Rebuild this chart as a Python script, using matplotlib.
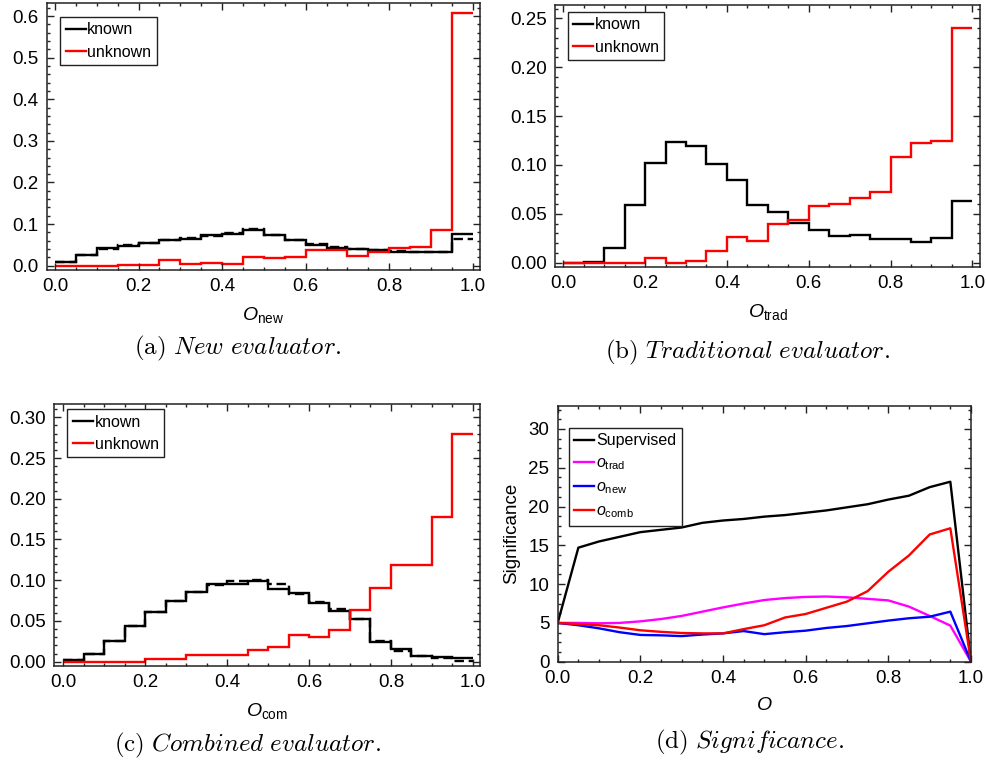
import numpy as np
import matplotlib
matplotlib.use("Agg")
import matplotlib.pyplot as plt
from matplotlib.ticker import MultipleLocator

plt.rcParams["font.family"] = ["Liberation Sans", "DejaVu Sans"]
plt.rcParams["mathtext.fontset"] = "custom"
plt.rcParams["mathtext.rm"] = "Liberation Sans"
plt.rcParams["mathtext.it"] = "Liberation Sans:italic"

# 20 bins on [0, 1]
edges = np.linspace(0.0, 1.0, 21)

# (a) new evaluator
new_known = [0.010, 0.026, 0.042, 0.048, 0.055, 0.062, 0.065, 0.073, 0.076, 0.086,
             0.074, 0.062, 0.050, 0.043, 0.041, 0.038, 0.034, 0.034, 0.032, 0.077]
new_known_alt = [0.010, 0.026, 0.041, 0.049, 0.054, 0.061, 0.067, 0.072, 0.078, 0.088,
                 0.075, 0.061, 0.052, 0.044, 0.040, 0.037, 0.035, 0.032, 0.033, 0.065]
new_unknown = [0.000, 0.000, 0.000, 0.002, 0.002, 0.013, 0.004, 0.006, 0.003, 0.020,
               0.018, 0.022, 0.038, 0.038, 0.024, 0.033, 0.042, 0.045, 0.085, 0.608]

# (b) traditional evaluator
trad_known = [0.000, 0.0003, 0.015, 0.059, 0.102, 0.123, 0.119, 0.101, 0.085, 0.059,
              0.052, 0.041, 0.033, 0.027, 0.028, 0.0245, 0.0245, 0.021, 0.025, 0.063]
trad_unknown = [0.000, 0.000, 0.000, 0.000, 0.0044, 0.000, 0.002, 0.012, 0.026, 0.0225,
                0.040, 0.044, 0.058, 0.060, 0.066, 0.072, 0.108, 0.122, 0.124, 0.240]

# (c) combined evaluator
com_known = [0.002, 0.010, 0.026, 0.044, 0.061, 0.075, 0.086, 0.095, 0.095, 0.0995,
             0.089, 0.084, 0.072, 0.062, 0.052, 0.0245, 0.016, 0.0074, 0.006, 0.005]
com_known_alt = [0.002, 0.010, 0.026, 0.044, 0.061, 0.075, 0.086, 0.094, 0.099, 0.100,
                 0.095, 0.083, 0.073, 0.065, 0.053, 0.026, 0.0135, 0.007, 0.004, 0.001]
com_unknown = [0.000, 0.000, 0.000, 0.000, 0.003, 0.003, 0.008, 0.008, 0.008, 0.014,
               0.018, 0.033, 0.030, 0.039, 0.063, 0.090, 0.119, 0.119, 0.177, 0.279]

# (d) significance vs cut
cut = np.linspace(0.0, 1.0, 21)
sig_supervised = [5.0, 14.7, 15.5, 16.1, 16.7, 17.0, 17.3, 17.9, 18.2, 18.4, 18.7,
                  18.9, 19.2, 19.5, 19.9, 20.3, 20.9, 21.4, 22.5, 23.2, 0.0]
sig_trad = [5.0, 5.0, 4.95, 5.0, 5.2, 5.5, 5.9, 6.45, 7.0, 7.5, 7.95,
            8.2, 8.35, 8.4, 8.3, 8.1, 7.9, 7.1, 5.9, 4.65, 0.0]
sig_new = [5.0, 4.7, 4.3, 3.8, 3.45, 3.4, 3.3, 3.5, 3.65, 3.95, 3.55,
           3.8, 4.0, 4.35, 4.6, 4.95, 5.3, 5.6, 5.8, 6.45, 0.0]
sig_comb = [5.0, 4.85, 4.7, 4.4, 4.05, 3.85, 3.7, 3.65, 3.65, 4.2, 4.7,
            5.7, 6.15, 6.95, 7.75, 9.1, 11.6, 13.7, 16.4, 17.2, 0.0]

W, H = 987, 764
fig = plt.figure(figsize=(W / 100, H / 100), dpi=100)


def px_axes(left, top, right, bottom):
    return fig.add_axes([left / W, 1 - bottom / H, (right - left) / W, (bottom - top) / H])


def style(ax, ymajor, yminor):
    ax.xaxis.set_major_locator(MultipleLocator(0.2))
    ax.xaxis.set_minor_locator(MultipleLocator(0.05))
    ax.yaxis.set_major_locator(MultipleLocator(ymajor))
    ax.yaxis.set_minor_locator(MultipleLocator(yminor))
    ax.tick_params(which="both", direction="in", top=True, right=True,
                   labelsize=13.5, width=1.0, color="#222222")
    ax.tick_params(which="major", length=5, pad=6)
    ax.tick_params(which="minor", length=2.5)
    for s in ax.spines.values():
        s.set_linewidth(1.1)
        s.set_color("#222222")


def legend(ax, x, y, **kw):
    leg = ax.legend(loc="upper left", bbox_to_anchor=(x, y), fontsize=11.5,
                    handlelength=1.25, handletextpad=0.1, borderpad=0.35,
                    labelspacing=0.45, borderaxespad=0, fancybox=False,
                    framealpha=1, edgecolor="#222222", **kw)
    leg.get_frame().set_linewidth(1.0)


LW = 1.7

# (a)
ax = px_axes(46.7, 3, 480, 270)
ax.stairs(new_known, edges, baseline=None, color="black", lw=LW, label="known")
ax.stairs(new_known_alt, edges, baseline=None, color="black", lw=LW, ls=(0, (4, 2)))
ax.stairs(new_unknown, edges, baseline=None, color="#ff0000", lw=LW, label="unknown")
ax.set_xlim(-0.020, 1.0175)
ax.set_ylim(-0.0103, 0.6313)
style(ax, 0.1, 0.02)
ax.yaxis.set_major_formatter(plt.FormatStrFormatter("%.1f"))
ax.xaxis.set_major_formatter(plt.FormatStrFormatter("%.1f"))
ax.set_xlabel(r"$O_{\mathrm{new}}$", fontsize=14, labelpad=7)
legend(ax, 0.031, 0.948)

# (b)
ax = px_axes(555, 5, 980, 267)
ax.stairs(trad_known, edges, baseline=None, color="black", lw=LW, label="known")
ax.stairs(trad_unknown, edges, baseline=None, color="#ff0000", lw=LW, label="unknown")
ax.set_xlim(-0.0203, 1.0188)
ax.set_ylim(-0.0044, 0.2636)
style(ax, 0.05, 0.01)
ax.yaxis.set_major_formatter(plt.FormatStrFormatter("%.2f"))
ax.xaxis.set_major_formatter(plt.FormatStrFormatter("%.1f"))
ax.set_xlabel(r"$O_{\mathrm{trad}}$", fontsize=14, labelpad=7)
legend(ax, 0.030, 0.974)

# (c)
ax = px_axes(54.3, 404, 480, 666)
ax.stairs(com_known, edges, baseline=None, color="black", lw=LW, label="known")
ax.stairs(com_known_alt, edges, baseline=None, color="black", lw=LW, ls=(0, (4, 2)))
ax.stairs(com_unknown, edges, baseline=None, color="#ff0000", lw=LW, label="unknown")
ax.set_xlim(-0.022, 1.0176)
ax.set_ylim(-0.0053, 0.3163)
style(ax, 0.05, 0.01)
ax.yaxis.set_major_formatter(plt.FormatStrFormatter("%.2f"))
ax.xaxis.set_major_formatter(plt.FormatStrFormatter("%.1f"))
ax.set_xlabel(r"$O_{\mathrm{com}}$", fontsize=14, labelpad=7)
legend(ax, 0.031, 0.981)

# (d)
ax = px_axes(557.7, 405.7, 971, 661.7)
ax.plot(cut, sig_supervised, color="black", lw=LW, label="Supervised")
ax.plot(cut, sig_trad, color="#ff00ff", lw=LW, label=r"$o_{\mathrm{trad}}$")
ax.plot(cut, sig_new, color="#0000ff", lw=LW, label=r"$o_{\mathrm{new}}$")
ax.plot(cut, sig_comb, color="#ff0000", lw=LW, label=r"$o_{\mathrm{comb}}$")
ax.set_xlim(0, 1)
ax.set_ylim(0, 33)
style(ax, 5, 1.25)
ax.xaxis.set_major_formatter(plt.FormatStrFormatter("%.1f"))
ax.set_xlabel(r"$O$", fontsize=14, labelpad=7)
ax.set_ylabel("Significance", fontsize=13.5, labelpad=6)
legend(ax, 0.027, 0.914)

# captions
caps = [(238, 348, "(a)", r"New\ evaluator."),
        (748, 352, "(b)", r"Traditional\ evaluator."),
        (248, 745, "(c)", r"Combined\ evaluator."),
        (750, 742, "(d)", r"Significance.")]
for x, y, tag, txt in caps:
    fig.text(x / W, 1 - y / H, r"$\mathrm{" + tag + r"}\ \mathit{" + txt + "}$",
             ha="center", va="center", fontsize=18, math_fontfamily="cm")

fig.savefig("out.png", dpi=100)
